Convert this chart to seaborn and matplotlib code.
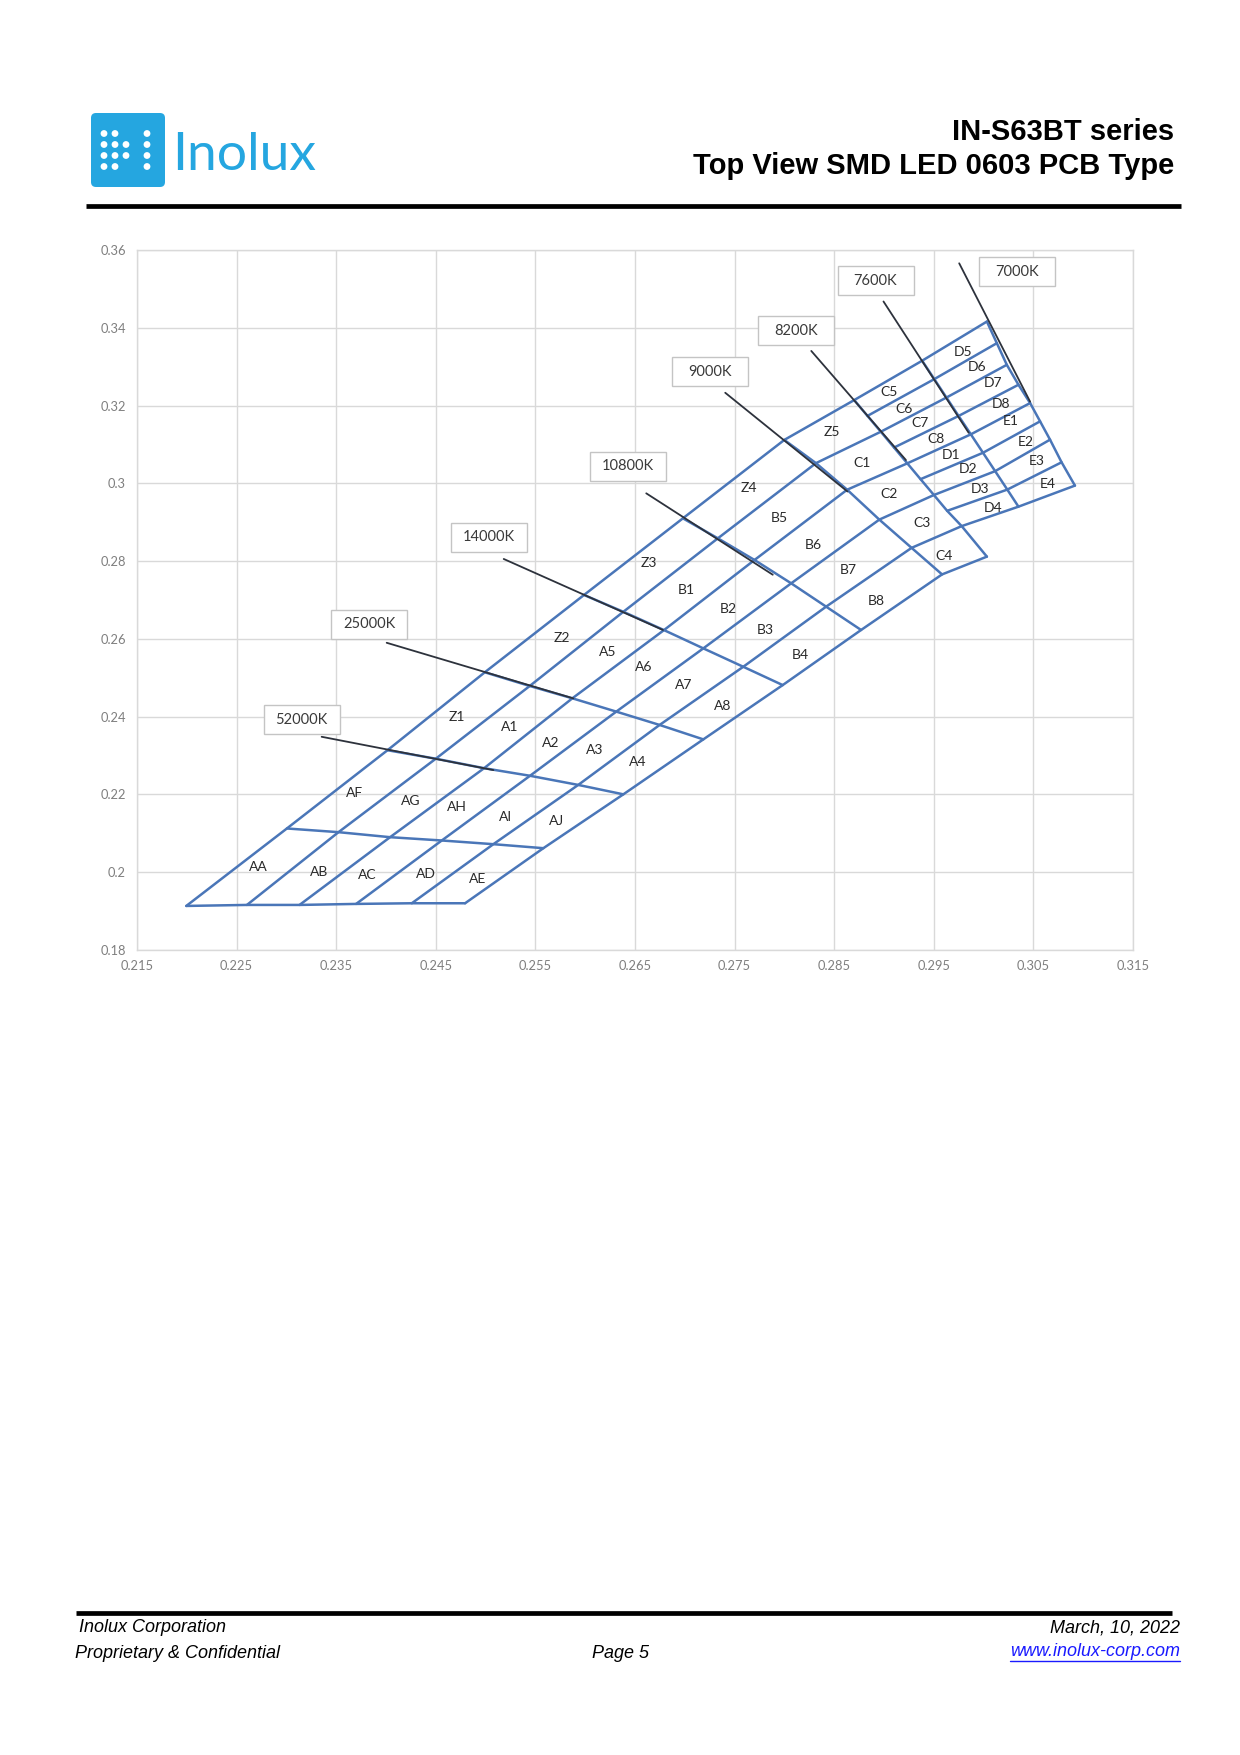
import numpy as np
import pandas as pd
import matplotlib
matplotlib.use("Agg")
import matplotlib.pyplot as plt
from matplotlib.patches import FancyBboxPatch, Rectangle, Circle
import seaborn as sns

# ---------------- data ----------------
# Crossings of each CCT boundary with the duv boundaries
# (index 0 = upper-left edge of the bin area ... last = lower-right edge)
cct_inf_x = [0.21995, 0.22604, 0.23132, 0.23700, 0.24259, 0.24794]
cct_inf_y = [0.19133, 0.19159, 0.19159, 0.19185, 0.19202, 0.19202]
cct_mid_x = [0.23005, 0.23523, 0.24041, 0.24560, 0.25078, 0.25580]
cct_mid_y = [0.21125, 0.21030, 0.20901, 0.20816, 0.20721, 0.20618]
cct_52000_x = [0.24015, 0.24500, 0.24985, 0.25446, 0.25930, 0.26383]
cct_52000_y = [0.23137, 0.22919, 0.22675, 0.22480, 0.22245, 0.22003]
cct_25000_x = [0.24992, 0.25443, 0.25871, 0.26312, 0.26747, 0.27186]
cct_25000_y = [0.25141, 0.24789, 0.24472, 0.24130, 0.23787, 0.23416]
cct_14000_x = [0.25988, 0.26383, 0.26791, 0.27186, 0.27587, 0.27983]
cct_14000_y = [0.27129, 0.26697, 0.26226, 0.25756, 0.25283, 0.24812]
cct_10800_x = [0.26981, 0.27332, 0.27700, 0.28068, 0.28419, 0.28770]
cct_10800_y = [0.29100, 0.28586, 0.28029, 0.27429, 0.26829, 0.26229]
cct_9000_x = [0.27999, 0.28317, 0.28630, 0.28953, 0.29277, 0.29583]
cct_9000_y = [0.31116, 0.30519, 0.29836, 0.29067, 0.28341, 0.27658]
# warm end: half-step duv boundaries (9 crossings); 8200K also closes bin C4
cct_8200_x = [0.28701, 0.28834, 0.28968, 0.29101, 0.29234, 0.29367, 0.29501, 0.29634, 0.29780, 0.30033]
cct_8200_y = [0.32141, 0.31734, 0.31327, 0.30920, 0.30514, 0.30107, 0.29700, 0.29293, 0.28900, 0.28115]
cct_7600_x = [0.29383, 0.29505, 0.29627, 0.29749, 0.29872, 0.29994, 0.30116, 0.30238, 0.30350]
cct_7600_y = [0.33153, 0.32680, 0.32206, 0.31733, 0.31260, 0.30786, 0.30313, 0.29839, 0.29400]
cct_7000_x = [0.30033, 0.30133, 0.30233, 0.30350, 0.30467, 0.30567, 0.30667, 0.30783, 0.30917]
cct_7000_y = [0.34160, 0.33604, 0.33048, 0.32535, 0.32064, 0.31594, 0.31123, 0.30541, 0.29942]

# CCT call-out boxes and their leader lines
cct_labels = ["52000K", "25000K", "14000K", "10800K", "9000K", "8200K", "7600K", "7000K"]
box_x = [0.23154, 0.23834, 0.25034, 0.26429, 0.27248, 0.28118, 0.28915, 0.30335]
box_y = [0.23925, 0.26381, 0.28612, 0.30437, 0.32866, 0.33920, 0.35211, 0.35442]
leader_x0 = [0.23354, 0.24007, 0.25182, 0.26613, 0.27406, 0.28270, 0.28995, 0.29755]
leader_y0 = [0.23483, 0.25900, 0.28055, 0.29743, 0.32329, 0.33404, 0.34676, 0.35658]
leader_x1 = [0.25078, 0.25881, 0.26781, 0.27883, 0.28633, 0.29220, 0.29850, 0.30467]
leader_y1 = [0.22627, 0.24470, 0.26229, 0.27650, 0.29790, 0.30600, 0.31300, 0.32100]

# bin names
bin_names = ["AA", "AB", "AC", "AD", "AE", "AF", "AG", "AH", "AI", "AJ",
             "Z1", "A1", "A2", "A3", "A4", "Z2", "A5", "A6", "A7", "A8",
             "Z3", "B1", "B2", "B3", "B4", "Z4", "B5", "B6", "B7", "B8",
             "Z5", "C1", "C2", "C3", "C4",
             "C5", "C6", "C7", "C8", "D1", "D2", "D3", "D4",
             "D5", "D6", "D7", "D8", "E1", "E2", "E3", "E4"]
bin_x = [0.22720, 0.23326, 0.23810, 0.24405, 0.24922, 0.23687, 0.24248, 0.24709, 0.25203, 0.25709,
         0.24709, 0.25237, 0.25653, 0.26090, 0.26529, 0.25765, 0.26226, 0.26585, 0.26990, 0.27383,
         0.26642, 0.27012, 0.27439, 0.27810, 0.28159, 0.27641, 0.27945, 0.28293, 0.28642, 0.28923,
         0.28473, 0.28776, 0.29046, 0.29382, 0.29607,
         0.29046, 0.29203, 0.29361, 0.29518, 0.29675, 0.29843, 0.29967, 0.30090,
         0.29790, 0.29934, 0.30090, 0.30170, 0.30271, 0.30428, 0.30529, 0.30642]
bin_y = [0.20126, 0.20010, 0.19925, 0.19954, 0.19838, 0.22026, 0.21823, 0.21679, 0.21419, 0.21306,
         0.23982, 0.23722, 0.23319, 0.23147, 0.22830, 0.26023, 0.25650, 0.25275, 0.24815, 0.24267,
         0.27951, 0.27260, 0.26771, 0.26224, 0.25591, 0.29879, 0.29102, 0.28411, 0.27779, 0.26972,
         0.31316, 0.30511, 0.29735, 0.28987, 0.28123,
         0.32351, 0.31920, 0.31548, 0.31144, 0.30740, 0.30367, 0.29851, 0.29360,
         0.33388, 0.32985, 0.32584, 0.32036, 0.31604, 0.31059, 0.30568, 0.29995]

x_ticks = [0.215, 0.225, 0.235, 0.245, 0.255, 0.265, 0.275, 0.285, 0.295, 0.305, 0.315]
x_tick_labels = ["0.215", "0.225", "0.235", "0.245", "0.255", "0.265", "0.275", "0.285", "0.295", "0.305", "0.315"]
y_ticks = [0.18, 0.20, 0.22, 0.24, 0.26, 0.28, 0.30, 0.32, 0.34, 0.36]
y_tick_labels = ["0.18", "0.2", "0.22", "0.24", "0.26", "0.28", "0.3", "0.32", "0.34", "0.36"]

# ---------------- build line segments ----------------
rows = []
def add(seg, xs, ys):
    for i, (xx, yy) in enumerate(zip(xs, ys)):
        rows.append({"seg": seg, "order": i, "x": xx, "y": yy})

isotherms = [(cct_inf_x, cct_inf_y), (cct_mid_x, cct_mid_y), (cct_52000_x, cct_52000_y),
             (cct_25000_x, cct_25000_y), (cct_14000_x, cct_14000_y), (cct_10800_x, cct_10800_y),
             (cct_9000_x, cct_9000_y), (cct_8200_x, cct_8200_y), (cct_7600_x, cct_7600_y),
             (cct_7000_x, cct_7000_y)]
seg = 0
for xs, ys in isotherms:
    add(seg, xs, ys); seg += 1

lower = isotherms[:7]
for k in range(6):
    xs = [iso[0][k] for iso in lower]
    ys = [iso[1][k] for iso in lower]
    if k < 5:
        j = 2 * k
        xs += [cct_8200_x[j], cct_7600_x[j], cct_7000_x[j]]
        ys += [cct_8200_y[j], cct_7600_y[j], cct_7000_y[j]]
    else:
        xs += [cct_8200_x[9]]
        ys += [cct_8200_y[9]]
    add(seg, xs, ys); seg += 1
for j in [1, 3, 5, 7]:
    add(seg, [cct_8200_x[j], cct_7600_x[j], cct_7000_x[j]],
        [cct_8200_y[j], cct_7600_y[j], cct_7000_y[j]]); seg += 1
grid_df = pd.DataFrame(rows)

lrows = []
for i in range(len(cct_labels)):
    lrows.append({"seg": i, "x": leader_x0[i], "y": leader_y0[i]})
    lrows.append({"seg": i, "x": leader_x1[i], "y": leader_y1[i]})
lead_df = pd.DataFrame(lrows)

# ---------------- figure ----------------
sns.set_theme(style="white")
plt.rcParams["font.family"] = ["Lato", "DejaVu Sans"]

W, H = 1240, 1755
fig = plt.figure(figsize=(W / 100, H / 100), dpi=100)
fig.patch.set_facecolor("white")

# page overlay in pixel coordinates
pg = fig.add_axes([0, 0, 1, 1], zorder=0)
pg.set_xlim(0, W); pg.set_ylim(H, 0)
pg.set_axis_off()
pg.patch.set_alpha(0)

LOGO = "#25a6e0"
pg.add_patch(FancyBboxPatch((91, 113), 74, 74, boxstyle="round,pad=0,rounding_size=5",
                            facecolor=LOGO, edgecolor="none"))
dot_cols = [104, 115, 126, 147]
dot_rows = [133.5, 144.5, 155.5, 166.5]
pattern = [[1, 1, 0, 1], [1, 1, 1, 1], [1, 1, 1, 1], [1, 1, 0, 1]]
for r, yy in enumerate(dot_rows):
    for c, xx in enumerate(dot_cols):
        if pattern[r][c]:
            pg.add_patch(Circle((xx, yy), 3.4, facecolor="white", edgecolor="none"))
pg.text(172, 155, "Inolux", fontsize=38.5, color=LOGO, ha="left", va="center",
        family=["Lato", "DejaVu Sans"], weight="normal")

hdr_font = ["Liberation Sans", "DejaVu Sans"]
pg.text(1174, 140, "IN-S63BT series", fontsize=21, weight="bold", ha="right",
        va="baseline", family=hdr_font, color="black")
pg.text(1174, 173.5, "Top View SMD LED 0603 PCB Type", fontsize=21, weight="bold",
        ha="right", va="baseline", family=hdr_font, color="black")
pg.plot([86, 1181], [206, 206], color="black", lw=3.4, solid_capstyle="butt")

# footer
pg.plot([76, 1172], [1613, 1613], color="black", lw=3.4, solid_capstyle="butt")
ft = dict(fontsize=13, style="italic", family=hdr_font, color="black", va="center")
pg.text(79, 1627, "Inolux Corporation", ha="left", **ft)
pg.text(75, 1653, "Proprietary & Confidential", ha="left", **ft)
pg.text(621, 1653, "Page 5", ha="center", **ft)
pg.text(1180, 1628, "March, 10, 2022", ha="right", **ft)
url = pg.text(1180, 1651, "www.inolux-corp.com", ha="right",
              **{**ft, "color": "#1a1aff"})

# ---------------- chart ----------------
ax = fig.add_axes([137 / W, 1 - 950 / H, 996 / W, 700 / H], zorder=2)
ax.set_facecolor("white")
ax.grid(True, color="#d9d9d9", lw=1.0)
ax.set_axisbelow(True)
for s in ax.spines.values():
    s.set_color("#d9d9d9"); s.set_linewidth(1.0)

BLUE = "#4a76b8"
sns.lineplot(data=grid_df, x="x", y="y", units="seg", estimator=None, sort=False,
             color=BLUE, lw=1.8, ax=ax, legend=False)
sns.lineplot(data=lead_df, x="x", y="y", units="seg", estimator=None, sort=False,
             color="#2d323c", lw=1.3, ax=ax, legend=False)

bw, bh = 76 / 9960, 29 / 3890
for lab, bx, by in zip(cct_labels, box_x, box_y):
    ax.add_patch(Rectangle((bx - bw / 2, by - bh / 2), bw, bh, facecolor="white",
                           edgecolor="#c4c4c4", lw=1.0, zorder=4))
    ax.text(bx, by, lab, ha="center", va="center", fontsize=10.5, color="#3a3a3a", zorder=5)

for name, bx, by in zip(bin_names, bin_x, bin_y):
    ax.text(bx, by, name, ha="center", va="center", fontsize=10, color="#2a2a2a", zorder=5)

ax.set_xlim(0.215, 0.315)
ax.set_ylim(0.18, 0.36)
ax.set_xticks(x_ticks)
ax.set_xticklabels(x_tick_labels)
ax.set_yticks(y_ticks)
ax.set_yticklabels(y_tick_labels)
ax.tick_params(axis="both", length=0, labelsize=9.3, labelcolor="#7f7f7f")
ax.tick_params(axis="x", pad=7)
ax.tick_params(axis="y", pad=8)
ax.set_xlabel(""); ax.set_ylabel("")

# underline for the URL
fig.canvas.draw()
bb = url.get_window_extent(fig.canvas.get_renderer())
x0, x1 = bb.x0, bb.x1
yline = H - bb.y0 + 1
pg.plot([x0, x1], [yline, yline], color="#1a1aff", lw=1.0)

fig.savefig("out.png", dpi=100, facecolor="white")
